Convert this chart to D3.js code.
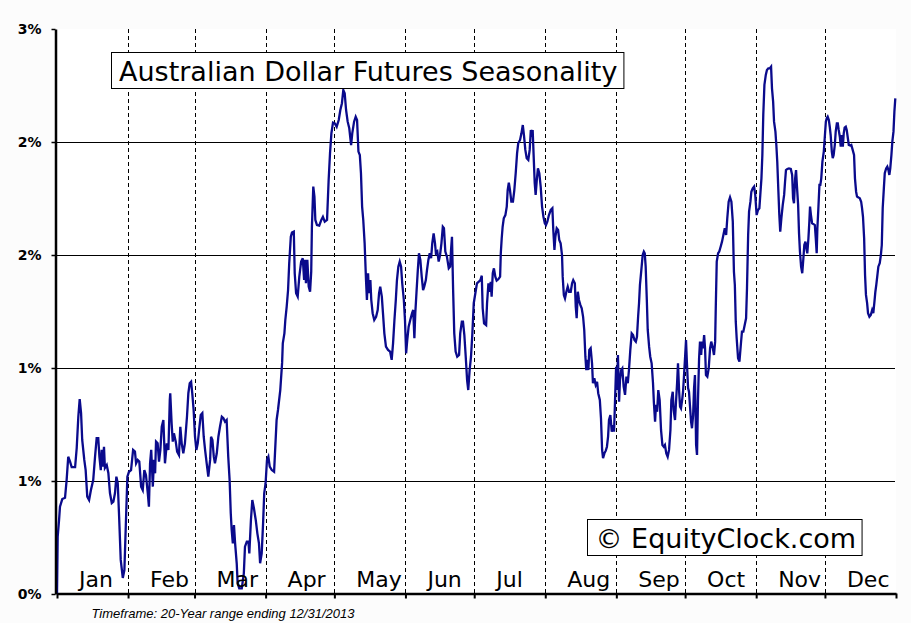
<!DOCTYPE html>
<html><head><meta charset="utf-8">
<script src="https://cdn.jsdelivr.net/npm/d3@7/dist/d3.min.js"></script>
<style>
html,body{margin:0;padding:0;background:#fcfcfc;}
svg{display:block;}
</style></head><body>
<svg id="chart" width="911" height="623"></svg>
<script>
const monthNames = ["Jan","Feb","Mar","Apr","May","Jun","Jul","Aug","Sep","Oct","Nov","Dec"];
const monthStarts = [0,31,60,91,121,152,182,213,244,274,305,335,366];
const yTicks = [0,0.6,1.2,1.8,2.4,3.0];
const yTickLabels = ["0%","1%","1%","2%","2%","3%"];
const titleText = "Australian Dollar Futures Seasonality";
const creditText = "\u00A9 EquityClock.com";
const footerText = "Timeframe: 20-Year range ending 12/31/2013";

// day of year (fractional) for each point
const days = [
0,0.3,0.9,1.3,2.3,3.5,4.2,4.9,5.7,6.4,
7.9,8.6,9.3,9.9,10.5,11.0,11.9,12.5,13.2,14.0,
14.8,15.8,16.6,17.3,18.0,18.5,19.1,19.5,19.9,20.5,
20.9,21.7,22.4,23.1,23.9,24.6,25.3,25.9,26.5,27.1,
27.8,28.7,29.4,30.0,30.7,31.4,32.3,33.2,34.0,34.5,
35.2,35.9,36.7,37.4,38.1,38.8,39.6,40.1,40.6,41.1,
41.8,42.3,42.8,43.2,43.9,44.5,45.1,45.7,46.4,47.1,
47.9,48.6,49.2,49.4,50.0,50.5,51.0,51.8,52.4,53.2,
53.8,54.4,55.1,55.8,56.7,57.3,57.9,58.5,59.0,59.6,
60.2,60.8,61.4,62.0,62.7,63.4,64.0,64.6,65.3,66.0,
66.8,67.2,67.8,68.4,68.9,69.7,70.4,71.1,71.9,72.6,
73.3,74.0,74.7,75.3,75.8,76.2,76.7,77.2,77.7,78.4,
78.8,79.5,80.6,81.5,82.0,82.8,83.5,83.9,84.6,85.2,
85.9,86.7,87.4,88.1,88.6,89.3,89.9,90.4,91.0,91.6,
92.2,92.8,93.7,94.7,95.8,96.4,97.4,98.2,98.5,99.2,
99.6,100.2,100.8,101.3,102.0,102.5,103.3,103.7,104.3,105.0,
105.7,106.5,107.2,107.8,108.2,108.6,109.2,109.8,110.4,110.9,
111.2,111.8,112.3,112.7,113.4,114.4,115.3,116.0,116.8,117.8,
118.5,119.1,119.7,120.4,121.2,122.0,122.9,123.6,124.3,124.9,
125.5,126.1,126.8,127.5,128.3,128.8,129.6,130.3,130.9,131.5,
132.1,132.6,133.1,133.6,134.2,134.8,135.2,135.7,136.1,136.7,
137.1,137.7,138.4,139.2,139.9,140.5,141.0,141.7,142.2,142.8,
143.5,144.4,145.3,146.0,146.6,147.2,147.8,148.3,148.9,149.5,
150.1,150.6,151.3,151.8,152.3,152.8,153.4,154.1,154.9,155.4,
155.9,156.3,156.8,157.4,157.9,158.5,159.1,159.7,160.2,160.9,
161.4,162.0,162.6,163.2,163.7,164.3,164.9,165.3,165.9,166.5,
167.1,167.7,168.3,168.8,169.4,170.1,170.9,171.5,171.9,172.3,
172.8,173.3,173.9,174.6,175.4,175.9,176.6,177.1,177.7,178.3,
178.9,179.4,180.0,180.6,181.2,181.8,182.5,183.2,184.0,184.7,
185.3,185.7,186.3,187.2,187.6,188.2,188.8,189.2,189.6,190.1,
190.6,191.2,191.8,192.5,193.3,193.6,194.0,194.4,194.9,195.6,
196.2,196.6,197.1,197.6,198.2,198.9,199.5,200.1,200.7,201.2,
202.0,202.6,203.2,203.7,204.3,204.9,205.6,206.2,206.7,207.1,
207.5,208.0,208.4,208.8,209.3,209.8,210.4,211.0,211.6,212.2,
212.8,213.3,213.9,214.6,215.4,216.1,216.5,217.0,217.4,218.0,
218.6,219.1,219.7,220.3,220.6,221.1,221.6,222.2,222.8,223.4,
224.1,224.7,225.2,225.9,226.3,226.7,227.2,227.7,228.3,228.9,
229.5,230.0,230.5,230.9,231.3,231.8,232.2,232.8,233.4,233.8,
234.4,235.0,235.6,236.1,236.8,237.3,237.8,238.2,238.8,239.4,
239.9,240.4,240.8,241.4,242.0,242.6,243.0,243.4,243.9,244.3,
244.7,245.2,245.6,246.1,246.6,247.2,247.8,248.4,249.0,249.5,
250.1,250.7,251.3,251.9,252.5,253.0,253.5,253.9,254.3,254.9,
255.5,256.0,256.4,256.8,257.3,257.7,258.3,258.8,259.4,260.0,
260.4,260.9,261.3,261.8,262.3,262.9,263.5,264.1,264.7,265.2,
265.8,266.4,267.0,267.6,268.0,268.6,269.0,269.6,270.0,270.5,
270.9,271.4,271.8,272.2,272.7,273.1,273.5,274.0,274.4,274.8,
275.3,275.7,276.2,276.6,277.0,277.5,277.9,278.3,278.8,279.2,
279.6,280.1,280.5,281.0,281.4,281.8,282.3,282.7,283.1,283.7,
284.3,284.9,285.4,286.1,286.6,287.1,287.4,287.8,288.4,288.9,
289.5,290.1,290.7,291.3,291.9,292.4,293.0,293.6,294.2,294.8,
295.3,295.7,296.1,296.5,297.1,297.7,298.3,298.8,299.4,300.0,
300.6,301.0,301.5,301.9,302.5,302.9,303.5,304.1,304.6,305.2,
305.8,306.4,306.8,307.3,307.7,308.1,308.6,309.2,309.7,310.3,
310.9,311.5,311.9,312.4,312.8,313.4,313.8,314.2,314.7,315.1,
315.5,316.0,316.6,317.2,317.6,318.0,318.6,319.3,320.1,320.7,
321.1,321.5,322.0,322.4,322.8,323.3,323.7,324.1,324.6,325.1,
325.6,326.0,326.5,326.9,327.3,327.8,328.2,328.5,328.9,329.4,
329.9,330.6,331.0,331.4,331.7,332.1,332.6,333.0,333.4,333.9,
334.5,334.9,335.4,335.8,336.2,336.7,337.1,337.5,338.0,338.4,
338.8,339.3,339.7,340.2,340.6,341.0,341.5,341.9,342.3,342.8,
343.2,343.6,344.1,344.5,345.0,345.4,346.0,346.5,347.1,347.7,
348.1,348.6,349.0,349.6,350.2,350.8,351.2,351.6,352.1,352.5,
352.9,353.4,353.8,354.4,355.0,355.6,356.1,356.6,357.0,357.4,
357.9,358.3,358.9,359.4,359.8,360.2,360.7,361.1,361.7,362.2,
362.7,363.1,363.5,364.0,364.4,364.9,365.3,365.7
];

// seasonal average return, percent
const values = [
0,0.304,0.393,0.464,0.504,0.511,0.605,0.729,0.703,0.674,
0.674,0.775,0.941,1.035,0.961,0.818,0.712,0.658,0.517,0.499,
0.552,0.605,0.729,0.828,0.828,0.729,0.658,0.765,0.676,0.782,
0.669,0.685,0.643,0.536,0.483,0.490,0.536,0.623,0.589,0.410,
0.181,0.085,0.127,0.357,0.623,0.649,0.658,0.765,0.756,0.694,
0.712,0.703,0.570,0.552,0.658,0.632,0.535,0.464,0.694,0.765,
0.570,0.712,0.641,0.809,0.800,0.703,0.765,0.888,0.924,0.694,
0.800,0.765,1.030,1.066,0.906,0.809,0.853,0.809,0.756,0.738,
0.888,0.800,0.747,0.800,0.941,1.066,1.119,1.127,1.066,0.977,
0.835,0.765,0.800,0.871,0.950,0.960,0.835,0.765,0.694,0.623,
0.712,0.835,0.818,0.729,0.694,0.747,0.835,0.888,0.941,0.933,
0.915,0.924,0.729,0.605,0.429,0.340,0.269,0.366,0.269,0.163,
0.057,0.030,0.030,0.110,0.251,0.278,0.278,0.216,0.393,0.499,
0.455,0.393,0.322,0.269,0.163,0.216,0.375,0.535,0.588,0.712,
0.729,0.676,0.658,0.649,0.924,0.977,1.083,1.227,1.331,1.384,
1.455,1.526,1.614,1.756,1.897,1.919,1.924,1.703,1.597,1.579,
1.685,1.765,1.783,1.667,1.774,1.650,1.774,1.632,1.605,1.711,
1.950,2.163,2.110,1.986,1.959,1.956,1.986,2.003,1.977,1.986,
2.198,2.340,2.446,2.503,2.499,2.481,2.517,2.570,2.606,2.676,
2.659,2.570,2.508,2.473,2.384,2.446,2.508,2.534,2.517,2.349,
2.331,2.234,2.057,1.986,1.862,1.667,1.561,1.703,1.597,1.667,
1.561,1.491,1.455,1.472,1.508,1.597,1.632,1.579,1.491,1.384,
1.313,1.296,1.287,1.243,1.331,1.455,1.561,1.667,1.738,1.765,
1.738,1.650,1.561,1.455,1.278,1.349,1.419,1.455,1.491,1.508,
1.358,1.491,1.597,1.720,1.809,1.774,1.685,1.614,1.632,1.667,
1.720,1.774,1.809,1.783,1.862,1.915,1.862,1.809,1.818,1.765,
1.800,1.862,1.950,1.942,1.818,1.791,1.729,1.738,1.827,1.897,
1.614,1.384,1.287,1.260,1.269,1.384,1.446,1.446,1.375,1.260,
1.136,1.083,1.189,1.260,1.384,1.544,1.597,1.650,1.658,1.667,
1.690,1.517,1.437,1.428,1.544,1.650,1.605,1.658,1.579,1.703,
1.729,1.685,1.664,1.671,1.685,1.809,1.889,1.950,1.995,2.012,
2.057,2.145,2.184,2.145,2.083,2.083,2.145,2.234,2.340,2.393,
2.411,2.446,2.490,2.437,2.358,2.314,2.305,2.358,2.464,2.428,
2.464,2.305,2.181,2.119,2.198,2.260,2.234,2.163,2.057,2.003,
1.968,1.959,1.977,2.012,2.039,2.048,1.933,1.827,1.897,1.942,
1.933,1.880,1.862,1.800,1.685,1.588,1.570,1.605,1.632,1.605,
1.605,1.650,1.667,1.650,1.526,1.464,1.605,1.561,1.535,1.517,
1.472,1.402,1.260,1.189,1.243,1.189,1.296,1.305,1.225,1.119,
1.145,1.110,1.127,1.066,1.030,0.933,0.765,0.721,0.747,0.761,
0.782,0.835,0.924,0.950,0.862,0.897,0.862,1.013,1.207,1.083,
1.269,1.021,1.136,1.189,1.198,1.101,1.057,1.154,1.119,1.189,
1.296,1.384,1.375,1.349,1.340,1.366,1.472,1.544,1.641,1.720,
1.800,1.818,1.809,1.738,1.561,1.402,1.313,1.260,1.225,1.119,
1.013,0.915,1.004,0.968,1.083,1.030,0.871,0.791,0.782,0.791,
0.747,0.729,0.765,0.871,1.030,1.074,0.977,0.924,1.013,1.119,
1.225,1.074,0.995,0.986,1.030,1.074,1.154,1.260,1.349,1.225,
1.094,1.074,0.986,0.915,0.880,0.950,1.092,1.163,0.791,0.738,
1.021,1.252,1.340,1.269,1.340,1.305,1.375,1.305,1.163,1.154,
1.198,1.305,1.340,1.305,1.269,1.340,1.535,1.765,1.809,1.818,
1.844,1.871,1.906,1.942,1.906,1.995,2.083,2.106,2.083,1.977,
1.711,1.641,1.446,1.358,1.252,1.234,1.322,1.393,1.393,1.428,
1.464,1.623,1.906,2.030,2.083,2.136,2.154,2.163,2.119,2.012,
2.039,2.048,2.119,2.207,2.331,2.543,2.703,2.756,2.782,2.791,
2.791,2.800,2.685,2.614,2.508,2.455,2.384,2.296,2.136,2.012,
1.924,1.995,2.066,2.119,2.189,2.251,2.257,2.260,2.257,2.225,
2.101,2.075,2.207,2.251,2.163,2.066,1.915,1.818,1.738,1.703,
1.783,1.853,1.871,1.836,1.809,1.889,1.977,2.057,2.012,1.968,
1.965,1.959,1.889,1.809,1.942,2.039,2.172,2.172,2.207,2.296,
2.349,2.420,2.508,2.526,2.534,2.517,2.481,2.437,2.349,2.314,
2.331,2.384,2.455,2.499,2.499,2.464,2.428,2.375,2.437,2.375,
2.446,2.476,2.481,2.464,2.420,2.384,2.381,2.384,2.358,2.331,
2.207,2.136,2.110,2.106,2.101,2.083,2.048,2.003,1.889,1.694,
1.588,1.544,1.491,1.472,1.481,1.508,1.491,1.552,1.605,1.641,
1.694,1.738,1.756,1.800,1.853,2.048,2.154,2.234,2.260,2.269,
2.251,2.225,2.260,2.331,2.402,2.455,2.561,2.632
];

const svg = d3.select("#chart");
const pL = 57, pR = 896, pT = 29, pB = 594;
const x = d3.scaleLinear().domain([0, 366]).range([pL, pR]);
const y = d3.scaleLinear().domain([0, 3]).range([pB, pT]);

svg.append("rect").attr("width", 911).attr("height", 623).attr("fill", "#fcfcfc");
svg.append("rect").attr("x", pL).attr("y", pT).attr("width", pR - pL).attr("height", pB - pT).attr("fill", "#ffffff");

// horizontal gridlines
svg.append("g").selectAll("line").data(yTicks.filter(v => v > 0 && v < 3)).join("line")
  .attr("x1", pL).attr("x2", pR - 1)
  .attr("y1", d => Math.round(y(d)) + 0.5).attr("y2", d => Math.round(y(d)) + 0.5)
  .attr("stroke", "#000").attr("stroke-width", 1);

// month separators
svg.append("g").selectAll("line").data(monthStarts.slice(1, 12)).join("line")
  .attr("x1", d => Math.round(x(d)) + 0.5).attr("x2", d => Math.round(x(d)) + 0.5)
  .attr("y1", pT).attr("y2", pB)
  .attr("stroke", "#000").attr("stroke-width", 1).attr("stroke-dasharray", "4,3");

// series line
const pts = days.map((d, i) => [d, values[i]]);
svg.append("path").datum(pts)
  .attr("fill", "none").attr("stroke", "#0a0a8c").attr("stroke-width", 2.3)
  .attr("stroke-linejoin", "miter")
  .attr("d", d3.line().x(d => x(d[0])).y(d => y(d[1])));

// title box
const tg = svg.append("g");
const tt = tg.append("text").attr("x", 119).attr("y", 81)
  .attr("font-family", "'DejaVu Sans', Verdana, sans-serif").attr("font-size", 27)
  .attr("fill", "#000").text(titleText);
const tw = tt.node().getComputedTextLength();
tg.insert("rect", "text").attr("x", 111.5).attr("y", 52.5).attr("width", tw + 14).attr("height", 36)
  .attr("fill", "#fff").attr("stroke", "#000").attr("stroke-width", 1);

// credit box
const cg = svg.append("g");
const ct = cg.append("text").attr("x", 595.5).attr("y", 548)
  .attr("font-family", "'DejaVu Sans', Verdana, sans-serif").attr("font-size", 27)
  .attr("fill", "#000").text(creditText);
const cw = ct.node().getComputedTextLength();
cg.insert("rect", "text").attr("x", 587.5).attr("y", 519.5).attr("width", cw + 14).attr("height", 36)
  .attr("fill", "#fff").attr("stroke", "#000").attr("stroke-width", 1);

// y axis
const ya = svg.append("g").attr("transform", "translate(55.5,0)")
  .call(d3.axisLeft(y).tickValues(yTicks).tickFormat((d, i) => yTickLabels[i]).tickSize(4).tickSizeOuter(0).tickPadding(10));
ya.select(".domain").attr("stroke", "#000").attr("stroke-width", 2.5);
ya.selectAll(".tick line").attr("stroke", "#000").attr("stroke-width", 1.5);
ya.selectAll(".tick text").attr("font-family", "'DejaVu Sans', Verdana, sans-serif")
  .attr("font-weight", "bold").attr("font-size", 14).attr("fill", "#000");

// x axis
const xa = svg.append("g").attr("transform", "translate(0,593.5)")
  .call(d3.axisBottom(x).tickValues(monthStarts).tickFormat("").tickSize(5).tickSizeOuter(0));
xa.select(".domain").attr("stroke", "#000").attr("stroke-width", 2.5);
xa.selectAll(".tick line").attr("stroke", "#000").attr("stroke-width", 2);

// month labels
svg.append("g").selectAll("text").data(monthNames).join("text")
  .attr("x", (d, i) => x(monthStarts[i]) + 22)
  .attr("y", 587)
  .attr("text-anchor", "start")
  .attr("font-family", "'DejaVu Sans', Verdana, sans-serif").attr("font-size", 22)
  .attr("fill", "#000").text(d => d);

// footer
svg.append("text").attr("x", 91.5).attr("y", 618)
  .attr("font-family", "'Liberation Sans', Arial, sans-serif").attr("font-style", "italic")
  .attr("font-size", 13).attr("fill", "#000").text(footerText);
</script>
</body></html>
